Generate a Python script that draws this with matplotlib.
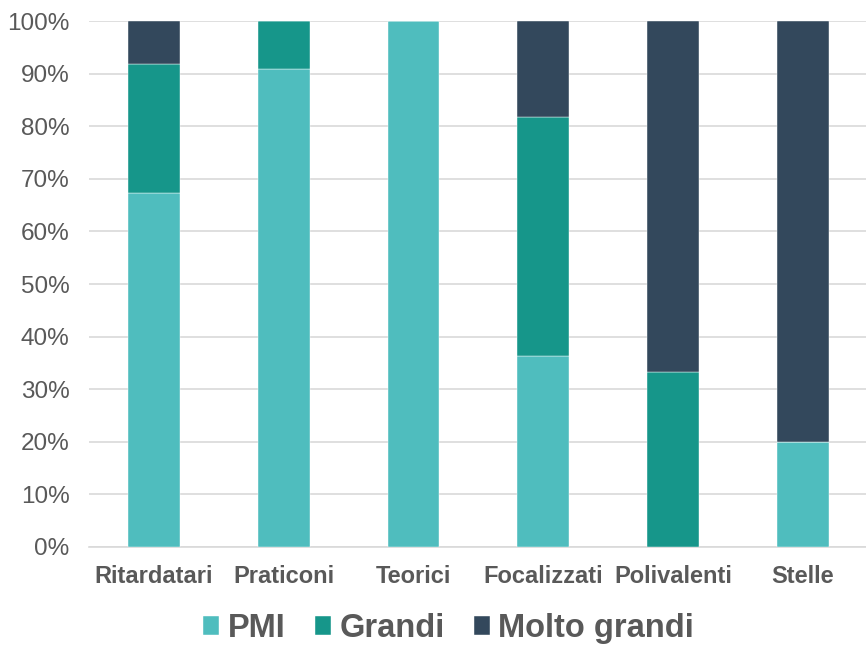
import numpy as np
import matplotlib.pyplot as plt
from matplotlib.ticker import PercentFormatter

plt.rcParams['font.family'] = ['Liberation Sans', 'DejaVu Sans']

categories = ["Ritardatari", "Praticoni", "Teorici", "Focalizzati", "Polivalenti", "Stelle"]
pmi = [67.3, 90.9, 100.0, 36.4, 0.0, 20.0]
grandi = [24.5, 9.1, 0.0, 45.4, 33.3, 0.0]
molto_grandi = [8.2, 0.0, 0.0, 18.2, 66.7, 80.0]

series = [("PMI", pmi, "#4FBDBE"),
          ("Grandi", grandi, "#16968A"),
          ("Molto grandi", molto_grandi, "#33485C")]

TEXT = "#595959"

fig = plt.figure(figsize=(8.66, 6.47), dpi=100)
ax = fig.add_axes([0.1028, 0.1546, 0.8992, 0.8129])

x = np.arange(len(categories))
bottom = np.zeros(len(categories))
for name, vals, col in series:
    vals = np.array(vals)
    ax.bar(x, vals, 0.4, bottom=bottom, color=col, label=name, zorder=3,
           edgecolor="white", linewidth=0.3)
    bottom += vals

ax.set_xlim(-0.5, len(categories) - 0.5)
ax.set_ylim(0, 100)
ax.set_yticks(np.arange(0, 101, 10))
ax.yaxis.set_major_formatter(PercentFormatter(decimals=0))
ax.yaxis.grid(True, color="#D9D9D9", linewidth=1.2, zorder=0)
ax.set_axisbelow(True)

for s in ["top", "right", "left"]:
    ax.spines[s].set_visible(False)
ax.spines["bottom"].set_color("#D9D9D9")
ax.spines["bottom"].set_linewidth(1.2)

ax.set_xticks(x)
ax.set_xticklabels(categories, fontsize=17, fontweight="bold", color=TEXT)
ax.tick_params(axis="x", length=0, pad=13)
ax.tick_params(axis="y", length=0, labelsize=17.5, labelcolor=TEXT, pad=14)

leg = fig.legend(loc="center", bbox_to_anchor=(0.518, 0.028), ncol=3, frameon=False,
                 prop={"size": 23.5, "weight": "bold"},
                 handlelength=0.5, handleheight=0.5,
                 handletextpad=0.25, columnspacing=0.9)
for t in leg.get_texts():
    t.set_color(TEXT)

fig.savefig("out.png", dpi=100)
